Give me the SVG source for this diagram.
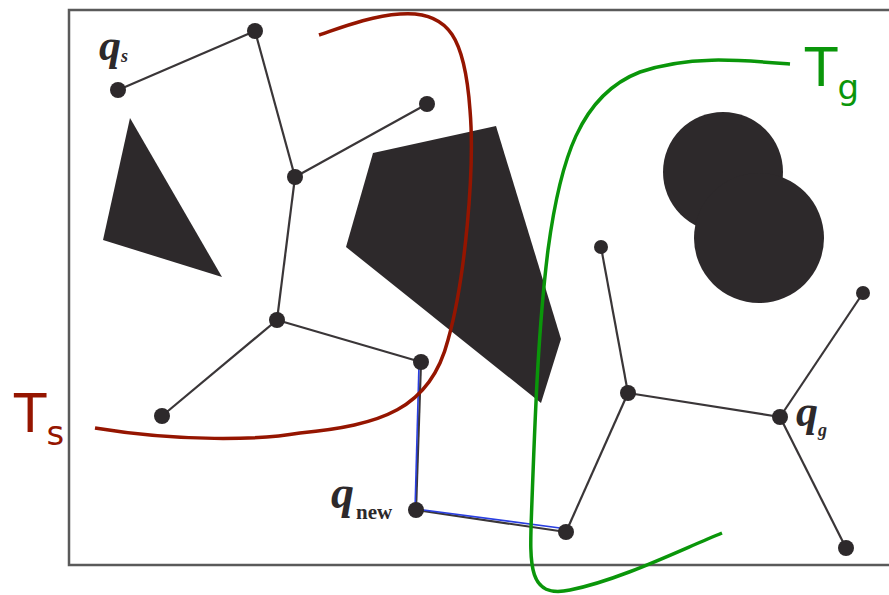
<svg xmlns="http://www.w3.org/2000/svg" width="889" height="595" viewBox="0 0 889 595">
<style>
.obs{fill:#2d292b}
.edge{stroke:#3a3638;stroke-width:2.2;fill:none}
.blue{stroke:#2a3fe0;stroke-width:1.6;fill:none}
.node{fill:#2d292b}
.q{font-family:"Liberation Serif",serif;font-style:italic;font-weight:bold;fill:#2d292b}
.lbl{font-family:"DejaVu Sans","Noto Sans",sans-serif}
</style>
<rect x="0" y="0" width="889" height="595" fill="#fff"/>
<rect x="69" y="10" width="840" height="555" fill="none" stroke="#5a5a5a" stroke-width="2.5"/>
<g id="obstacles">
<polygon class="obs" points="130,118 103,240 222,277"/>
<polygon class="obs" points="373,153 496,126 561,339 541,403 346,247"/>
<circle class="obs" cx="723" cy="172" r="60"/>
<circle class="obs" cx="759" cy="238" r="65"/>
</g>
<g id="connectors">
<line class="edge" x1="118" y1="90" x2="255" y2="31"/>
<line class="edge" x1="255" y1="31" x2="295" y2="177"/>
<line class="edge" x1="295" y1="177" x2="427" y2="104"/>
<line class="edge" x1="295" y1="177" x2="277" y2="320"/>
<line class="edge" x1="277" y1="320" x2="162" y2="416"/>
<line class="edge" x1="277" y1="320" x2="421" y2="362"/>
<line class="edge" x1="421" y1="362" x2="416" y2="510"/>
<line class="edge" x1="416" y1="510" x2="566" y2="532"/>
<line class="blue" x1="419" y1="364" x2="415" y2="510"/>
<line class="blue" x1="416" y1="509" x2="560" y2="528"/>
<line class="edge" x1="566" y1="532" x2="628" y2="393"/>
<line class="edge" x1="628" y1="393" x2="601" y2="247"/>
<line class="edge" x1="628" y1="393" x2="780" y2="417"/>
<line class="edge" x1="780" y1="417" x2="863" y2="293"/>
<line class="edge" x1="780" y1="417" x2="846" y2="548"/>
</g>
<g id="nodes">
<circle id="qs" class="node" cx="118" cy="90" r="8"/>
<circle id="n1" class="node" cx="255" cy="31" r="8"/>
<circle id="n2" class="node" cx="295" cy="177" r="8"/>
<circle id="n3" class="node" cx="427" cy="104" r="8"/>
<circle id="n4" class="node" cx="277" cy="320" r="8"/>
<circle id="n5" class="node" cx="162" cy="416" r="8"/>
<circle id="n6" class="node" cx="421" cy="362" r="8"/>
<circle id="qnew" class="node" cx="416" cy="510" r="8"/>
<circle id="n7" class="node" cx="566" cy="532" r="8"/>
<circle id="n8" class="node" cx="628" cy="393" r="8"/>
<circle id="n9" class="node" cx="601" cy="247" r="7"/>
<circle id="qg" class="node" cx="780" cy="417" r="8"/>
<circle id="n10" class="node" cx="863" cy="293" r="7"/>
<circle id="n11" class="node" cx="846" cy="548" r="8"/>
</g>
<g id="trees">
<path id="Ts-curve" d="M95,428 C180,442 260,440 300,433 C380,425 430,410 448,340 C465,280 475,170 470,110 C465,40 450,10 400,14 C370,16 340,28 319,35" fill="none" stroke="#951500" stroke-width="3.5"/>
<path id="Tg-curve" d="M790,64 C740,60 690,55 640,72 C580,95 560,160 548,250 C538,330 535,420 532,500 C530,560 525,600 570,590 C620,580 680,550 722,533" fill="none" stroke="#0a960a" stroke-width="3.5"/>
</g>
<g id="labels">
<text class="q" x="99" y="60" font-size="44">q<tspan font-size="18" dy="2">s</tspan></text>
<text class="q" x="331" y="508" font-size="46">q<tspan font-size="21" dx="2" dy="11" font-style="normal">new</tspan></text>
<text class="q" x="796" y="426" font-size="44">q<tspan font-size="18" dy="10">g</tspan></text>
<text class="lbl" x="14" y="432" font-size="53" fill="#951500">T<tspan font-size="34" dy="13">s</tspan></text>
<text class="lbl" x="805" y="86" font-size="53" fill="#0a960a">T<tspan font-size="34" dy="13">g</tspan></text>
</g>
</svg>
